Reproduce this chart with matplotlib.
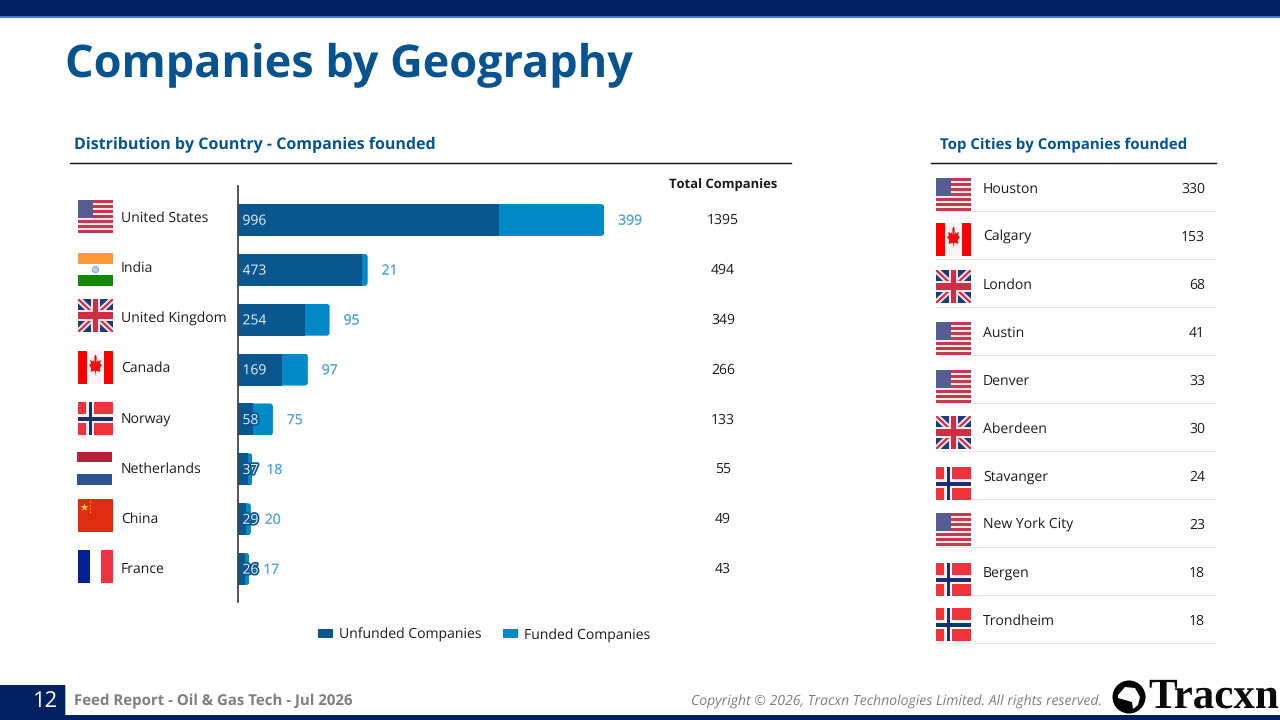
import matplotlib
matplotlib.use('agg')
import matplotlib.pyplot as plt
import matplotlib.patheffects as pe
from matplotlib.patches import Rectangle, Polygon, Circle, FancyBboxPatch
from matplotlib.transforms import IdentityTransform

plt.rcParams['font.family'] = ['Open Sans', 'DejaVu Sans']
plt.rcParams['text.hinting'] = 'none'
plt.rcParams['text.hinting_factor'] = 1

countries = ['United States', 'India', 'United Kingdom', 'Canada', 'Norway',
             'Netherlands', 'China', 'France']
country_flags = ['us', 'in', 'uk', 'ca', 'no', 'nl', 'cn', 'fr']
unfunded = [996, 473, 254, 169, 58, 37, 29, 26]
funded = [399, 21, 95, 97, 75, 18, 20, 17]
totals = [1395, 494, 349, 266, 133, 55, 49, 43]

cities = ['Houston', 'Calgary', 'London', 'Austin', 'Denver', 'Aberdeen',
          'Stavanger', 'New York City', 'Bergen', 'Trondheim']
city_flags = ['us', 'ca', 'uk', 'us', 'us', 'uk', 'no', 'us', 'no', 'no']
city_counts = [330, 153, 68, 41, 33, 30, 24, 23, 18, 18]

NAVY = '#002060'
BLUE = '#07538f'
DARK_BAR = '#0a568f'
LIGHT_BAR = '#0088c7'
LABEL_BLUE = '#5aa8d8'
TEXT = '#1a1a1a'

LEAF = [(0, -.42), (.03, -.2), (.3, -.24), (.25, -.1), (.38, .03), (.28, .08), (.31, .24),
        (.15, .17), (.11, .24), (.05, .1), (.07, .36), (0, .46), (-.07, .36), (-.05, .1),
        (-.11, .24), (-.15, .17), (-.31, .24), (-.28, .08), (-.38, .03), (-.25, -.1),
        (-.3, -.24), (-.03, -.2)]


def box(ax, x, y, w, h, color, z=3):
    ax.add_patch(Rectangle((x, y), w, h, fc=color, ec='none', zorder=z))


def draw_flag(ax, code, x, y, w=35, h=33):
    if code == 'us':
        box(ax, x, y, w, h, '#f6e6e8')
        for i in range(0, 13, 2):
            box(ax, x, y + i * h / 13, w, h / 13, '#c23a50', 4)
        box(ax, x, y, w * .42, h * .56, '#565d92', 5)
    elif code == 'in':
        box(ax, x, y, w, h / 3, '#ff9933')
        box(ax, x, y + h * 2 / 3, w, h / 3, '#138808')
        ax.add_patch(Circle((x + w / 2, y + h / 2), 3.2, fc='#b9cbe2', ec='#7f9cc4', lw=.6, zorder=4))
    elif code == 'uk':
        clip = Rectangle((x, y), w, h, transform=ax.transData)
        box(ax, x, y, w, h, '#1f3a78')
        for xs, ys in [((x, x + w), (y, y + h)), ((x, x + w), (y + h, y))]:
            for lw, col in [(4.4, '#f4e8ea'), (1.6, '#cf2e45')]:
                ln, = ax.plot(xs, ys, color=col, lw=lw, solid_capstyle='butt', zorder=4)
                ln.set_clip_path(clip)
        box(ax, x + w * .38, y, w * .24, h, '#f4e8ea', 5)
        box(ax, x, y + h * .32, w, h * .36, '#f4e8ea', 5)
        box(ax, x + w * .44, y, w * .12, h, '#cf2e45', 6)
        box(ax, x, y + h * .39, w, h * .22, '#cf2e45', 6)
    elif code == 'ca':
        box(ax, x, y, w, h, '#fdf3f3')
        box(ax, x, y, w * .25, h, '#ff0000', 4)
        box(ax, x + w * .75, y, w * .25, h, '#ff0000', 4)
        pts = [(x + w / 2 + px * 17, y + h * .45 - py * 25) for px, py in LEAF]
        ax.add_patch(Polygon(pts, fc='#ee0c0c', ec='none', zorder=5))
    elif code == 'no':
        box(ax, x, y, w, h, '#f0323a')
        box(ax, x + w * .23, y, w * .23, h, '#fbeeee', 4)
        box(ax, x, y + h * .37, w, h * .27, '#fbeeee', 4)
        box(ax, x + w * .3, y, w * .11, h, '#14326e', 5)
        box(ax, x, y + h * .44, w, h * .13, '#14326e', 5)
    elif code == 'nl':
        box(ax, x - 1, y, w, h * .33, '#ae2539')
        box(ax, x - 1, y + h * .67, w, h * .33, '#2c5392')
    elif code == 'cn':
        box(ax, x, y, w, h, '#de2c10')
        ax.scatter([x + 5.5], [y + 8], marker='*', s=38, c='#ffd21f', linewidths=0, zorder=5)
        ax.plot([x + 11.5] * 2, [y + 2, y + 15], color='#f4b04a', lw=.7, ls=(0, (1.5, 2)), zorder=5)
    elif code == 'fr':
        box(ax, x, y, w * .33, h, '#002394')
        box(ax, x + w * .67, y, w * .33, h, '#ee3340')


fig = plt.figure(figsize=(12.8, 7.2), dpi=100, facecolor='white')

# whole slide in pixel coordinates
bg = fig.add_axes([0, 0, 1, 1])
bg.set_xlim(0, 1280)
bg.set_ylim(720, 0)
bg.axis('off')

box(bg, 0, 0, 1280, 15.5, NAVY)
box(bg, 0, 15.5, 1280, 2, '#4a78c8')
box(bg, 0, 715, 1280, 5, NAVY)
box(bg, 0, 685, 65, 30, NAVY)
box(bg, 65, 685, 1, 30, '#9db7dd')

bg.text(65, 66, 'Companies by Geography', fontsize=32.2, fontweight='bold', color=BLUE, va='center')
bg.text(74, 145, 'Distribution by Country - Companies founded', fontsize=11.35, fontweight='bold',
        color=BLUE, va='center')
bg.text(940, 145, 'Top Cities by Companies founded', fontsize=11.15, fontweight='bold', color=BLUE, va='center')
bg.plot([70, 791], [162.5, 162.5], color='#111111', lw=1)
bg.plot([931, 1216], [162.5, 162.5], color='#111111', lw=1)
bg.text(723, 185.5, 'Total Companies', fontsize=9.65, fontweight='bold', color=TEXT, ha='center', va='center')

# country rows
flag_tops = [200, 253, 299, 351, 402, 451.5, 499, 549.5]
label_rows = [218.5, 268.5, 318.5, 368.5, 419.5, 469.5, 519.5, 569.5]
total_rows = [220, 270, 320, 370, 420, 469.5, 519.5, 569.5]
for i, name in enumerate(countries):
    draw_flag(bg, country_flags[i], 78, flag_tops[i])
    bg.text(121, label_rows[i], name, fontsize=10, color=TEXT, va='center')
    bg.text(723, total_rows[i], str(totals[i]), fontsize=10, color=TEXT, ha='center', va='center')

# city table
city_flag_tops = [178, 223, 270, 322, 370, 416, 467, 513, 563, 608]
for i, name in enumerate(cities):
    yc = 188 + 48 * i
    draw_flag(bg, city_flags[i], 936, city_flag_tops[i])
    bg.text(983, yc + 1, name, fontsize=10, color=TEXT, va='center')
    bg.text(1205, yc + 1, str(city_counts[i]), fontsize=10, color=TEXT, ha='right', va='center')
    bg.plot([935, 1216], [yc + 22.5, yc + 22.5], color='#e8e8e8', lw=0.7)

# footer
bg.text(45, 701, '12', fontsize=16, color='white', ha='center', va='center')
bg.text(74, 701.5, 'Feed Report - Oil & Gas Tech - Jul 2026', fontsize=10.5, fontweight='bold',
        color='#7f7f7f', va='center')
bg.text(1102, 702, 'Copyright © 2026, Tracxn Technologies Limited. All rights reserved.', fontsize=10.15,
        style='italic', color='#7f7f7f', ha='right', va='center')
bg.add_patch(Circle((1129, 697), 16.5, fc='black', ec='none', zorder=3))
bg.add_patch(Polygon([(1118, 695), (1125, 687), (1135, 688), (1140, 697), (1138, 705), (1133, 709),
                      (1132, 702), (1118, 698)], fc='white', ec='none', zorder=4))
bg.text(1214, 697, 'Tracxn', fontsize=30.7, fontweight='bold', family='Liberation Serif', color='#0a0a0a',
        ha='center', va='center')

# bars: 0.2625 px per company, one row every 49.86 px
px_left, px_right, px_top, px_bottom = 238, 800, 186, 602
row = 49.86
ax = fig.add_axes([px_left / 1280, 1 - px_bottom / 720, (px_right - px_left) / 1280, (px_bottom - px_top) / 720])
ax.patch.set_alpha(0)
ax.set_xlim(0, (px_right - px_left) / 0.2625)
ax.set_ylim((px_bottom - 220) / row, (px_top - 220) / row)
ypos = list(range(len(countries)))
ax.barh(ypos, unfunded, height=0.64, color=DARK_BAR, label='Unfunded Companies', zorder=2)
funded_bars = ax.barh(ypos, funded, left=unfunded, height=0.64, color=LIGHT_BAR,
                      label='Funded Companies', zorder=2)
for s in ['top', 'right', 'bottom']:
    ax.spines[s].set_visible(False)
ax.spines['left'].set_color('#444444')
ax.spines['left'].set_linewidth(1.3)
ax.spines['left'].set_zorder(5)
ax.set_xticks([])
ax.set_yticks([])

fig.canvas.draw()
for i, bar in enumerate(funded_bars):
    # round the outer end of the stack
    (x0, y0), (x1, y1) = ax.transData.transform([(0, i - 0.32), (unfunded[i] + funded[i], i + 0.32)])
    ylo, yhi = min(y0, y1), max(y0, y1)
    clip = FancyBboxPatch((x0 - 10, ylo), x1 - x0 + 10, yhi - ylo, boxstyle='round,pad=0,rounding_size=3',
                          transform=IdentityTransform())
    bar.set_clip_path(clip)

    ax.annotate(str(unfunded[i]), (0, i), xytext=(4.5, -1), textcoords='offset pixels', fontsize=10,
                color='#e6eff6', va='center', zorder=6,
                path_effects=[pe.withStroke(linewidth=2.5, foreground=DARK_BAR)])
    ax.annotate(str(funded[i]), (unfunded[i] + funded[i], i), xytext=(14, -1), textcoords='offset pixels',
                fontsize=10, color=LABEL_BLUE, va='center', zorder=6,
                path_effects=[pe.withStroke(linewidth=0.15, foreground=LABEL_BLUE)])

leg = ax.legend(loc='center', bbox_to_anchor=(484 / 1280, 1 - 635 / 720), bbox_transform=fig.transFigure,
                ncol=2, frameon=False, fontsize=10, handlelength=1.08, handleheight=0.65,
                handletextpad=0.42, columnspacing=1.55, borderpad=0)
for t in leg.get_texts():
    t.set_color(TEXT)

fig.savefig('out.png', dpi=100)
plt.close()
